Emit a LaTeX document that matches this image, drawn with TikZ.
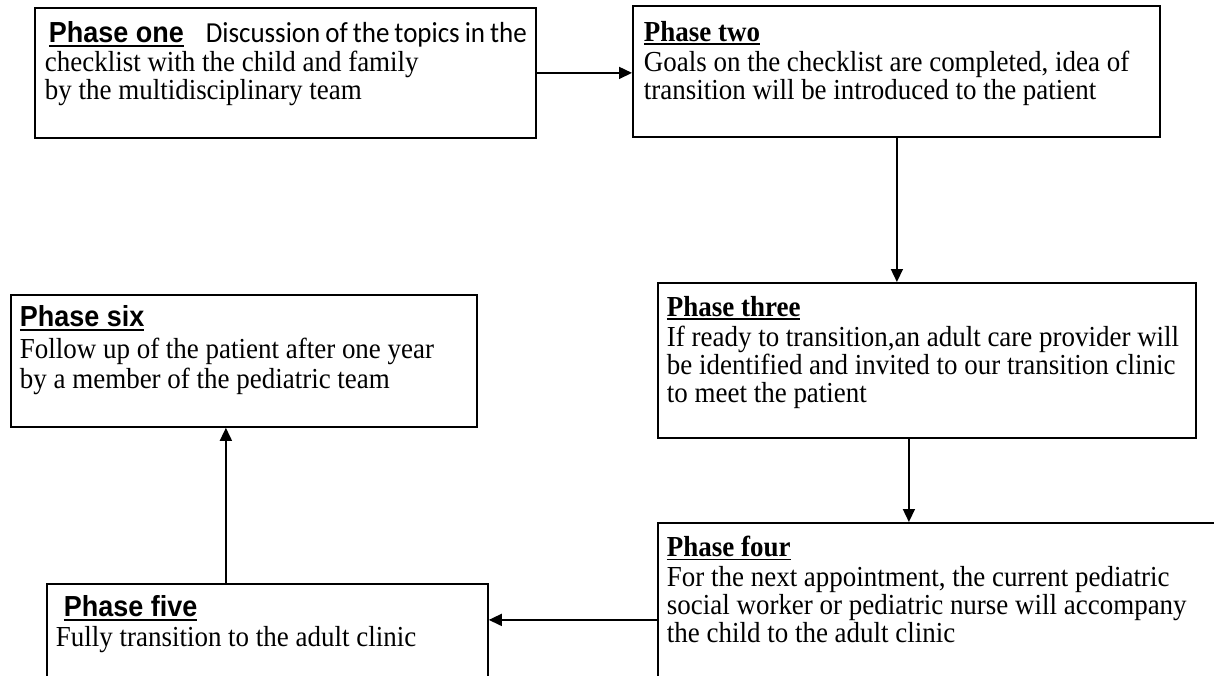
\documentclass[tikz,border=0pt]{standalone}
\usepackage{fontspec}
\setmainfont{Liberation Serif}[FakeStretch=0.93]
\newfontfamily\headsf{Liberation Sans}[FakeStretch=0.93]
\newfontfamily\calsf{Carlito}[FakeStretch=0.93]
\usetikzlibrary{arrows.meta}

\tikzset{
  phase/.style={draw, line width=1.8pt, anchor=north west, inner xsep=9pt, inner ysep=0pt,
    font=\fontsize{29}{28}\selectfont},
  flow/.style={line width=1.6pt, -{Triangle[length=13pt,width=12pt]}}
}
\newcommand{\phasebody}[3]{\begin{minipage}[t][#2][t]{#1}#3\end{minipage}}
\newcommand{\headul}[1]{\leavevmode\vtop{\hbox{#1}\kern2pt\hrule height 1.8pt}}

\begin{document}
\begin{tikzpicture}[x=1pt,y=-1pt]
	    \useasboundingbox (0,0) rectangle (1214,675);
	    \clip (0,0) rectangle (1214,675);
	    % the six phases
	    \node[phase] (one) at (34,7) {\phasebody{483pt}{130pt}{\vspace*{14pt}\rule{0pt}{19pt}\hspace*{5pt}\headul{\headsf\bfseries Phase one}\hspace{22pt}{\calsf Discussion of the topics in the}\\[1pt]
	        \hspace*{1pt}checklist with the child and family\\
	        \hspace*{1pt}by the multidisciplinary team}};
	    \node[phase] (two) at (632,5) {\phasebody{509pt}{131pt}{\vspace*{15pt}\rule{0pt}{19pt}\hspace*{2pt}\headul{\bfseries Phase two}\\[2pt]
	        \hspace*{2pt}Goals on the checklist are completed, idea of\\
	        \hspace*{2pt}transition will be introduced to the patient}};
	    \node[phase] (three) at (657,282) {\phasebody{520pt}{155pt}{\vspace*{13pt}\rule{0pt}{19pt}\headul{\bfseries Phase three}\\[2pt]
	        If ready to transition,an adult care provider will\\
	        be identified and invited to our transition clinic\\
	        to meet the patient}};
	    \node[phase] (four) at (657,522) {\phasebody{602pt}{194pt}{\vspace*{13pt}\rule{0pt}{19pt}\headul{\bfseries Phase four}\\[2pt]
	        For the next appointment, the current pediatric\\
	        social worker or pediatric nurse will accompany\\
	        the child to the adult clinic}};
	    \node[phase] (five) at (46,583) {\phasebody{423pt}{200pt}{\vspace*{12pt}\rule{0pt}{19pt}\hspace*{8pt}\headul{\headsf\bfseries Phase five}\\[2pt]
	        Fully transition to the adult clinic}};
	    \node[phase] (six) at (10,294) {\phasebody{448pt}{132pt}{\fontsize{29}{30}\selectfont\vspace*{11pt}\rule{0pt}{19pt}\headul{\headsf\bfseries Phase six}\\[2pt]
	        Follow up of the patient after one year\\
	        by a member of the pediatric team}};
	    % arrows between phases
	    \draw[flow] (one.east) -- (one.east -| two.west);
	    \draw[flow] ([xshift=0.5pt]two.south) -- ([xshift=0.5pt]two.south |- three.north);
	    \draw[flow] ([xshift=-18pt]three.south) -- ([xshift=-18pt]three.south |- four.north);
	    \draw[flow] (four.west) -- (four.west -| five.east);
	    \draw[flow] ([xshift=-41.5pt]five.north) -- ([xshift=-41.5pt]five.north |- six.south);
\end{tikzpicture}
\end{document}
